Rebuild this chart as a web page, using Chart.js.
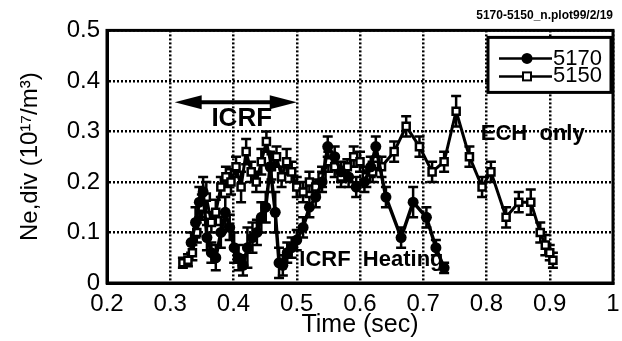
<!DOCTYPE html>
<html>
<head>
<meta charset="utf-8">
<script src="https://cdn.jsdelivr.net/npm/chart.js@4.4.1/dist/chart.umd.min.js"></script>
<style>
  html, body { margin: 0; padding: 0; background: #fff; }
</style>
</head>
<body>
<canvas id="chart" width="622" height="341"></canvas>
<script>
// shot 5170 : ICRF heating
const shot5170Time = [0.333, 0.340, 0.346, 0.352, 0.358, 0.365, 0.372, 0.380, 0.387, 0.394,
  0.401, 0.408, 0.415, 0.422, 0.430, 0.437, 0.444, 0.451, 0.458, 0.466,
  0.472, 0.478, 0.485, 0.492, 0.500, 0.510, 0.520, 0.530, 0.540, 0.549,
  0.560, 0.570, 0.582, 0.594, 0.607, 0.617, 0.625, 0.641, 0.665, 0.684,
  0.705, 0.720, 0.733];
const shot5170Ne = [0.080, 0.120, 0.160, 0.180, 0.090, 0.060, 0.050, 0.100, 0.140, 0.110,
  0.070, 0.050, 0.035, 0.070, 0.090, 0.100, 0.130, 0.150, 0.230, 0.140,
  0.040, 0.035, 0.060, 0.070, 0.085, 0.110, 0.150, 0.170, 0.200, 0.270,
  0.250, 0.220, 0.210, 0.190, 0.200, 0.230, 0.270, 0.170, 0.090, 0.160,
  0.130, 0.070, 0.030];
const shot5170Err = [0.020, 0.030, 0.030, 0.030, 0.025, 0.020, 0.025, 0.030, 0.030, 0.025,
  0.030, 0.025, 0.020, 0.040, 0.030, 0.025, 0.030, 0.030, 0.030, 0.040,
  0.030, 0.020, 0.020, 0.020, 0.020, 0.020, 0.020, 0.020, 0.020, 0.020,
  0.020, 0.020, 0.020, 0.020, 0.020, 0.020, 0.020, 0.020, 0.020, 0.030,
  0.020, 0.015, 0.010];

// shot 5150 : ECH only
const shot5150Time = [0.320, 0.328, 0.335, 0.342, 0.350, 0.357, 0.365, 0.372, 0.380, 0.388,
  0.396, 0.404, 0.412, 0.420, 0.428, 0.436, 0.444, 0.452, 0.460, 0.468,
  0.476, 0.484, 0.492, 0.500, 0.510, 0.520, 0.530, 0.540, 0.550, 0.560,
  0.570, 0.580, 0.590, 0.600, 0.610, 0.620, 0.634, 0.654, 0.673, 0.694,
  0.714, 0.733, 0.752, 0.773, 0.793, 0.807, 0.831, 0.851, 0.870, 0.885,
  0.893, 0.900, 0.905];
const shot5150Ne = [0.040, 0.045, 0.060, 0.100, 0.150, 0.170, 0.120, 0.140, 0.190, 0.210,
  0.200, 0.230, 0.190, 0.260, 0.220, 0.200, 0.240, 0.280, 0.230, 0.250,
  0.210, 0.240, 0.220, 0.190, 0.180, 0.200, 0.190, 0.210, 0.240, 0.230,
  0.210, 0.230, 0.250, 0.240, 0.210, 0.220, 0.230, 0.260, 0.310, 0.270,
  0.220, 0.240, 0.340, 0.250, 0.190, 0.220, 0.130, 0.160, 0.160, 0.100,
  0.075, 0.060, 0.045];
const shot5150Err = [0.010, 0.012, 0.015, 0.020, 0.025, 0.030, 0.020, 0.025, 0.020, 0.020,
  0.025, 0.020, 0.030, 0.025, 0.020, 0.020, 0.025, 0.020, 0.025, 0.020,
  0.020, 0.025, 0.020, 0.020, 0.020, 0.020, 0.015, 0.020, 0.020, 0.020,
  0.020, 0.015, 0.020, 0.020, 0.020, 0.020, 0.020, 0.020, 0.020, 0.020,
  0.020, 0.020, 0.030, 0.020, 0.020, 0.020, 0.020, 0.020, 0.025, 0.020,
  0.020, 0.015, 0.015];

const xTickLabels = ['0.2', '0.3', '0.4', '0.5', '0.6', '0.7', '0.8', '0.9', '1'];
const yTickLabels = ['0', '0.1', '0.2', '0.3', '0.4', '0.5'];

const FONT = '"Liberation Sans", Arial, Helvetica, sans-serif';

function toPoints(xs, ys) {
  return xs.map((x, i) => ({ x: x, y: ys[i] }));
}

// error bars, frame, legend box and the text notes
const extras = {
  id: 'extras',
  beforeDatasetsDraw(chart) {
    const ctx = chart.ctx;
    const yScale = chart.scales.y;
    ctx.save();
    ctx.strokeStyle = '#000';
    ctx.lineWidth = 2.5;
    chart.data.datasets.forEach((ds, i) => {
      const meta = chart.getDatasetMeta(i);
      meta.data.forEach((pt, j) => {
        const v = ds.data[j].y;
        const e = ds.errors[j];
        const top = yScale.getPixelForValue(v + e);
        const bot = yScale.getPixelForValue(v - e);
        ctx.beginPath();
        ctx.moveTo(pt.x, top); ctx.lineTo(pt.x, bot);
        ctx.moveTo(pt.x - 5, top); ctx.lineTo(pt.x + 5, top);
        ctx.moveTo(pt.x - 5, bot); ctx.lineTo(pt.x + 5, bot);
        ctx.stroke();
      });
    });
    ctx.restore();
  },
  afterDraw(chart) {
    const ctx = chart.ctx;
    const a = chart.chartArea;
    const xs = chart.scales.x, ys = chart.scales.y;
    ctx.save();

    // plot frame
    ctx.strokeStyle = '#000';
    ctx.lineWidth = 3;
    ctx.strokeRect(a.left, a.top, a.right - a.left, a.bottom - a.top);

    // ICRF arrow
    const ax1 = xs.getPixelForValue(0.307), ax2 = xs.getPixelForValue(0.5);
    const ay = ys.getPixelForValue(0.358);
    ctx.fillStyle = '#000';
    ctx.lineWidth = 4;
    ctx.beginPath();
    ctx.moveTo(ax1 + 20, ay); ctx.lineTo(ax2 - 20, ay);
    ctx.stroke();
    ctx.beginPath();
    ctx.moveTo(ax1, ay); ctx.lineTo(ax1 + 27, ay - 7); ctx.lineTo(ax1 + 27, ay + 7); ctx.closePath();
    ctx.fill();
    ctx.beginPath();
    ctx.moveTo(ax2, ay); ctx.lineTo(ax2 - 27, ay - 7); ctx.lineTo(ax2 - 27, ay + 7); ctx.closePath();
    ctx.fill();

    ctx.textBaseline = 'middle';
    ctx.font = 'bold 26px ' + FONT;
    ctx.textAlign = 'center';
    ctx.fillText('ICRF', xs.getPixelForValue(0.413), ys.getPixelForValue(0.324));

    ctx.textAlign = 'left';
    ctx.font = 'bold 22px ' + FONT;
    ctx.fillText('ICRF  Heating', xs.getPixelForValue(0.504), ys.getPixelForValue(0.045));
    ctx.fillText('ECH  only', xs.getPixelForValue(0.791), ys.getPixelForValue(0.296));

    // legend
    const lx = a.right - 125, ly = a.top + 7, lw = 123, lh = 55;
    ctx.fillStyle = '#fff';
    ctx.fillRect(lx, ly, lw, lh);
    ctx.lineWidth = 3;
    ctx.strokeRect(lx, ly, lw, lh);
    const rows = [ly + 21, ly + 39];
    ctx.lineWidth = 2.5;
    rows.forEach(r => {
      ctx.beginPath(); ctx.moveTo(lx + 11, r); ctx.lineTo(lx + 64, r); ctx.stroke();
    });
    ctx.fillStyle = '#000';
    ctx.beginPath(); ctx.arc(lx + 39, rows[0], 5.5, 0, Math.PI * 2); ctx.fill();
    ctx.fillStyle = '#fff';
    ctx.lineWidth = 2;
    ctx.fillRect(lx + 35, rows[1] - 4, 8, 8);
    ctx.strokeRect(lx + 35, rows[1] - 4, 8, 8);
    ctx.fillStyle = '#000';
    ctx.font = '22px ' + FONT;
    ctx.textAlign = 'left';
    ctx.fillText(chart.data.datasets[0].label, lx + 65, rows[0] + 1);
    ctx.fillText(chart.data.datasets[1].label, lx + 65, rows[1]);
    ctx.restore();
  }
};

new Chart(document.getElementById('chart'), {
  type: 'line',
  data: {
    datasets: [
      {
        label: '5170',
        data: toPoints(shot5170Time, shot5170Ne),
        errors: shot5170Err,
        borderColor: '#000',
        borderWidth: 3.5,
        pointStyle: 'circle',
        pointRadius: 5.5,
        pointBackgroundColor: '#000',
        pointBorderWidth: 0,
        tension: 0
      },
      {
        label: '5150',
        data: toPoints(shot5150Time, shot5150Ne),
        errors: shot5150Err,
        borderColor: '#000',
        borderWidth: 3,
        pointStyle: 'rect',
        pointRadius: 5,
        pointBackgroundColor: '#fff',
        pointBorderColor: '#000',
        pointBorderWidth: 2.5,
        tension: 0
      }
    ]
  },
  options: {
    responsive: false,
    animation: false,
    layout: { padding: { top: 0, right: 9, left: 0, bottom: 0 } },
    plugins: {
      legend: { display: false },
      tooltip: { enabled: false },
      title: {
        display: true,
        text: '5170-5150_n.plot99/2/19',
        align: 'end',
        color: '#000',
        font: { family: FONT, size: 12, weight: 'bold' },
        padding: { top: 8, bottom: 8 }
      }
    },
    scales: {
      x: {
        type: 'linear',
        min: 0.2,
        max: 1,
        afterBuildTicks: (scale) => {
          scale.ticks = xTickLabels.map(s => ({ value: parseFloat(s) }));
        },
        afterFit: (scale) => { scale.height = 58; scale.paddingRight = 0; },
        ticks: {
          color: '#000',
          font: { family: FONT, size: 24 },
          padding: 7,
          maxRotation: 0,
          autoSkip: false,
          callback: (v, i) => xTickLabels[i]
        },
        grid: { color: '#000', lineWidth: 2.5, drawTicks: false },
        border: { display: true, color: '#000', width: 3, dash: [2, 2] },
        title: {
          display: true,
          text: 'Time (sec)',
          color: '#000',
          font: { family: FONT, size: 25 },
          padding: { top: 0, bottom: 1 }
        }
      },
      y: {
        min: 0,
        max: 0.5,
        afterBuildTicks: (scale) => {
          scale.ticks = yTickLabels.map(s => ({ value: parseFloat(s) }));
        },
        afterFit: (scale) => { scale.width = 107; },
        ticks: {
          color: '#000',
          font: { family: FONT, size: 24 },
          padding: 7,
          autoSkip: false,
          callback: (v, i) => yTickLabels[i]
        },
        grid: { color: '#000', lineWidth: 2.5, drawTicks: false },
        border: { display: true, color: '#000', width: 3, dash: [2, 2] },
        title: {
          display: true,
          text: 'Ne,div (10¹⁷/m³)',
          color: '#000',
          font: { family: FONT, size: 24 },
          padding: { top: 16, bottom: 0 }
        }
      }
    }
  },
  plugins: [extras]
});
</script>
</body>
</html>
